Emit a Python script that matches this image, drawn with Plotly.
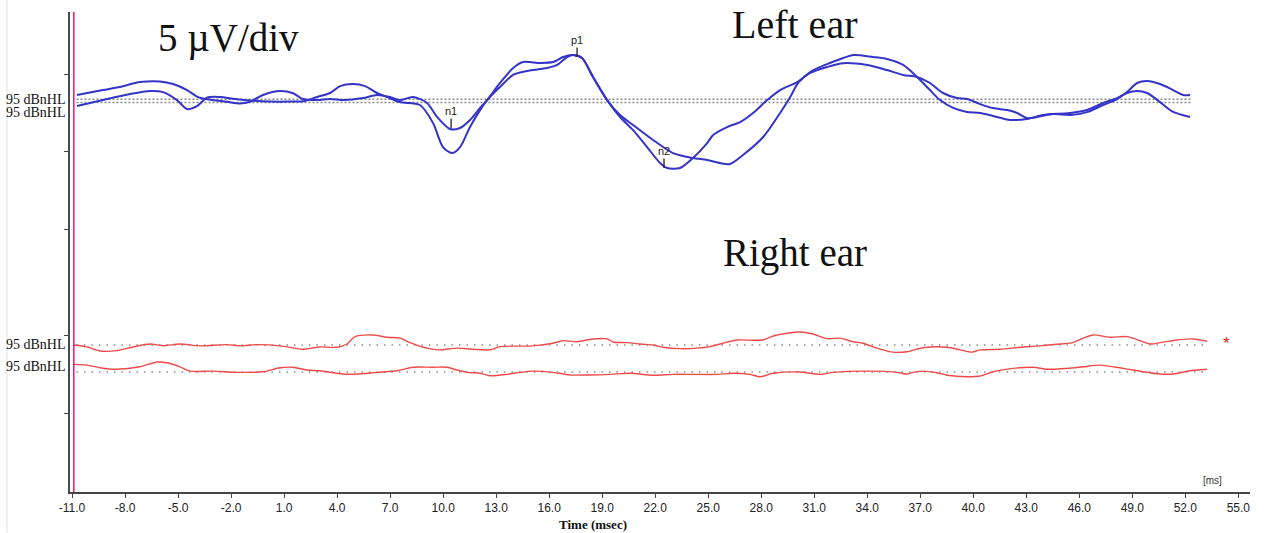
import plotly.graph_objects as go

# ---------------- data (time in ms, amplitude in µV relative to each baseline) ----------------
left_a_t = [-10.72, -9.25, -8.29, -7.15, -6.02, -5.28, -4.49, -3.93, -3.36, -2.23, -1.49, -0.93, -0.19, 0.77,
            1.51, 2.07, 2.86, 3.60, 4.44, 5.46, 6.26, 6.99, 7.56, 8.30, 9.09, 9.66, 10.39, 10.96, 11.52, 12.09,
            12.49, 13.22, 13.96, 14.52, 15.48, 16.22, 16.79, 17.35, 17.86, 18.48, 19.28, 20.01, 20.75, 21.88,
            23.01, 24.14, 24.94, 25.67, 26.24, 26.97, 28.11, 29.07, 29.64, 30.09, 30.77, 31.73, 32.64, 33.20,
            34.33, 35.12, 36.03, 36.82, 37.55, 38.12, 38.86, 39.65, 40.39, 41.12, 42.09, 43.04, 43.95, 45.47,
            46.44, 47.35, 48.14, 48.70, 49.27, 49.84, 50.57, 51.31, 52.27]
left_a_uv = [0.28, 0.60, 0.80, 1.12, 1.16, 0.99, 0.60, 0.18, 0.00, -0.16, -0.27, -0.16, 0.28, 0.54,
             0.39, 0.02, -0.05, 0.02, -0.05, 0.08, 0.28, 0.15, -0.05, 0.15, -0.24, -1.15, -1.93, -1.86, -1.34, -0.56,
             -0.05, 1.06, 2.03, 2.42, 2.36, 2.42, 2.75, 2.88, 2.68, 1.45, -0.05, -1.02, -1.67, -2.64,
             -3.49, -3.81, -3.94, -4.14, -4.20, -3.62, -2.45, -0.89, 0.15, 1.06, 1.77, 2.29, 2.68, 2.88,
             2.75, 2.62, 2.23, 1.45, 0.60, -0.05, -0.56, -0.82, -0.89, -1.08, -1.34, -1.28, -1.02, -0.89,
             -0.69, -0.24, 0.08, 0.41, 0.54, 0.41, -0.18, -0.82, -1.15]

left_b_t = [-10.72, -9.25, -7.72, -6.59, -5.85, -5.06, -4.49, -3.93, -3.36, -2.63, -1.78, -0.93, 0.21, 1.34,
            2.18, 2.86, 3.60, 4.17, 4.90, 5.58, 6.26, 6.83, 7.56, 8.69, 9.43, 9.99, 10.50, 10.96, 11.52, 12.09,
            12.49, 13.22, 13.96, 14.75, 15.88, 16.45, 17.01, 17.35, 17.86, 18.48, 19.28, 20.01, 20.75, 21.54,
            22.28, 22.67, 23.41, 24.14, 24.94, 25.28, 26.07, 26.81, 27.54, 28.34, 29.07, 30.04, 30.77, 31.73,
            32.64, 33.99, 35.12, 36.03, 36.82, 37.55, 38.29, 39.08, 39.65, 40.39, 41.12, 41.92, 42.48, 43.04,
            43.61, 44.52, 45.47, 46.44, 47.35, 48.14, 48.70, 49.27, 49.84, 50.57, 51.31, 51.87, 52.27]
left_b_uv = [-0.23, 0.16, 0.55, 0.75, 0.68, 0.16, -0.42, -0.23, 0.32, 0.36, 0.23, 0.13, 0.06, 0.06,
             0.10, 0.36, 0.62, 1.07, 1.20, 1.07, 0.62, 0.36, 0.03, -0.16, -1.33, -2.89, -3.28, -2.89, -1.59, -0.49,
             0.16, 1.01, 1.79, 2.05, 2.24, 2.44, 2.95, 3.08, 2.89, 1.66, 0.16, -0.94, -1.79, -2.89,
             -3.93, -4.25, -4.25, -3.60, -2.63, -2.11, -1.59, -1.27, -0.68, 0.16, 0.81, 1.33, 1.92, 2.31,
             2.56, 2.44, 2.11, 1.79, 1.66, 1.27, 0.62, 0.29, 0.23, -0.10, -0.36, -0.49, -0.68, -1.01,
             -0.94, -0.75, -0.81, -0.62, -0.16, 0.23, 0.68, 1.27, 1.40, 1.20, 0.81, 0.49, 0.49]

right_a_t = [-10.89, -10.15, -9.42, -8.46, -7.55, -6.59, -5.85, -4.89, -3.76, -2.23, -1.49, -0.53, 0.77, 1.51,
             2.09, 3.03, 4.00, 4.56, 5.01, 6.03, 6.82, 7.56, 8.12, 9.09, 9.82, 10.78, 11.69, 12.65, 13.22, 15.09,
             16.22, 16.79, 17.58, 18.48, 19.28, 19.62, 20.41, 21.15, 21.88, 22.45, 23.41, 24.37, 25.10, 25.84,
             26.63, 28.11, 28.68, 29.47, 30.20, 30.93, 31.73, 32.46, 33.20, 33.76, 34.56, 35.46, 36.25, 37.16,
             38.52, 39.25, 39.93, 40.39, 41.52, 42.65, 43.78, 44.91, 45.64, 46.22, 46.78, 47.74, 48.70, 49.44,
             50.00, 50.74, 51.53, 52.44, 53.23]
right_a_uv = [0.00, -0.13, -0.39, -0.37, -0.13, 0.06, -0.05, 0.06, -0.06, 0.02, -0.06, 0.02, -0.06, -0.19,
              -0.28, -0.13, -0.15, 0.06, 0.54, 0.65, 0.50, 0.44, 0.15, -0.21, -0.32, -0.21, -0.28, -0.32, -0.11, -0.06,
              0.11, 0.28, 0.21, 0.39, 0.39, 0.19, 0.15, 0.06, 0.00, -0.15, -0.24, -0.21, -0.11, 0.11,
              0.32, 0.32, 0.58, 0.76, 0.84, 0.71, 0.41, 0.44, 0.21, 0.11, -0.21, -0.47, -0.44, -0.18,
              -0.15, -0.32, -0.47, -0.32, -0.28, -0.15, -0.06, 0.06, 0.15, 0.44, 0.65, 0.50, 0.54, 0.28,
              0.06, 0.18, 0.32, 0.39, 0.24]

right_b_t = [-10.89, -10.15, -9.42, -8.46, -7.15, -6.19, -5.63, -4.89, -4.32, -3.02, -1.66, -0.19, 0.77, 1.51,
             2.29, 3.03, 4.33, 5.12, 6.26, 7.39, 8.29, 9.43, 10.22, 10.78, 11.35, 12.09, 12.65, 13.62, 14.35, 15.09,
             16.22, 17.18, 18.31, 19.45, 20.58, 21.88, 23.01, 24.14, 25.50, 26.41, 27.37, 27.94, 28.68, 30.20,
             31.34, 32.07, 34.16, 35.69, 36.25, 36.59, 37.16, 37.95, 38.52, 39.65, 40.39, 41.12, 42.26, 43.39,
             44.18, 45.31, 46.22, 47.18, 48.48, 49.61, 50.57, 51.31, 52.27, 53.23]
right_b_uv = [0.50, 0.45, 0.28, 0.18, 0.34, 0.65, 0.60, 0.34, 0.06, 0.06, -0.02, 0.02, 0.28, 0.31,
              0.13, 0.08, -0.13, -0.13, -0.02, 0.08, 0.31, 0.31, 0.31, 0.13, -0.02, -0.08, -0.24, -0.15, -0.02, 0.06,
              -0.02, -0.19, -0.19, -0.15, -0.08, -0.21, -0.15, -0.15, -0.15, -0.08, -0.15, -0.31, -0.08, 0.00,
              -0.15, -0.02, 0.06, -0.02, -0.13, -0.02, 0.06, -0.05, -0.21, -0.31, -0.26, 0.02, 0.24, 0.31,
              0.18, 0.24, 0.34, 0.45, 0.24, 0.02, -0.13, -0.13, 0.08, 0.18]

# baseline (trace origin) levels on the vertical scale, in µV units
left_a_base = 25.50
left_b_base = 25.29
right_a_base = 9.55
right_b_base = 7.79
left_base_end = 52.3
right_base_end = 53.23
base_start = -10.75

# waveform peak markers: name, time (ms), amplitude, trace baseline
peak_names = ["n1", "p1", "n2"]
peak_times = [10.45, 17.58, 22.5]
peak_uv = [-1.86, 2.95, -4.25]
peak_base = [left_a_base, left_b_base, left_b_base]

stim_marker_ms = -10.9
x_ticks = [-11 + 3 * i for i in range(23)]
x_tick_text = ["%.1f" % v for v in x_ticks]
y_ticks = [5.13, 10.19, 17.03, 22.08, 27.08]
level_labels = ["95 dBnHL", "95 dBnHL", "95 dBnHL", "95 dBnHL"]
level_label_y = [25.52, 24.63, 9.55, 8.18]

BLUE = "#3434c8"
RED = "#ef4a4a"

fig = go.Figure()

# baselines (dotted)
for base, end, dash, w in [(left_a_base, left_base_end, "2px,2px", 1.6), (left_b_base, left_base_end, "2px,2px", 1.6),
                           (right_a_base, right_base_end, "1.5px,6px", 1.5), (right_b_base, right_base_end, "1.5px,6px", 1.5)]:
    fig.add_trace(go.Scatter(x=[base_start, end], y=[base, base], mode="lines",
                             line=dict(color="#8a8a8a", width=w, dash=dash), hoverinfo="skip"))

for t, uv, base, color, w in [(left_a_t, left_a_uv, left_a_base, BLUE, 2.0),
                              (left_b_t, left_b_uv, left_b_base, BLUE, 2.0),
                              (right_a_t, right_a_uv, right_a_base, RED, 1.4),
                              (right_b_t, right_b_uv, right_b_base, RED, 1.4)]:
    fig.add_trace(go.Scatter(x=t, y=[base + v for v in uv], mode="lines",
                             line=dict(color=color, width=w, shape="spline", smoothing=0.8)))

annotations = []
for name, pt, pv, pb in zip(peak_names, peak_times, peak_uv, peak_base):
    annotations.append(dict(x=pt, y=pb + pv, xref="x", yref="y", text=name, showarrow=True,
                            arrowhead=0, arrowwidth=1.3, arrowcolor="#222", ax=0, ay=-17, standoff=0,
                            font=dict(family="Liberation Sans", size=11, color="#222")))

for lab, ly in zip(level_labels, level_label_y):
    annotations.append(dict(x=-0.0015, y=ly, xref="paper", yref="y", text=lab, showarrow=False,
                            xanchor="right", yanchor="middle",
                            font=dict(family="Liberation Serif", size=14, color="#111")))


def note(x, y, text, size, family="Liberation Serif", color="#111"):
    return dict(x=x, y=y, xref="paper", yref="paper", text=text, showarrow=False,
                xanchor="center", yanchor="middle", font=dict(family=family, size=size, color=color))


annotations += [
    note(0.134, 0.946, "5 µV/div", 39),
    note(0.614, 0.973, "Left ear", 40),
    note(0.614, 0.498, "Right ear", 39),
    note(0.443, -0.067, "<b>Time (msec)</b>", 13),
    note(0.9686, 0.025, "[ms]", 10, "Liberation Sans", "#333"),
    note(0.98, 0.310, "*", 17, "Liberation Sans", "#e82020"),
]

shapes = [
    dict(type="line", xref="x", yref="paper", x0=stim_marker_ms, x1=stim_marker_ms, y0=0, y1=1,
         line=dict(color="#f0207a", width=1.6)),
    dict(type="line", xref="paper", yref="paper", x0=-0.0534, x1=-0.0534, y0=-0.085, y1=1.025,
         line=dict(color="#e4e1d6", width=1)),
]

fig.update_layout(
    width=1264, height=533,
    margin=dict(l=70, r=14, t=12, b=41),
    plot_bgcolor="white", paper_bgcolor="white",
    showlegend=False,
    annotations=annotations, shapes=shapes,
    xaxis=dict(range=[-11.115, 55.66], tickvals=x_ticks, ticktext=x_tick_text, showgrid=False, zeroline=False,
               showline=True, linecolor="#444", linewidth=1.5, ticks="outside", ticklen=4, tickcolor="#444",
               tickfont=dict(family="Liberation Sans", size=12, color="#222")),
    yaxis=dict(range=[0, 31.17], tickvals=y_ticks, showticklabels=False, showgrid=False, zeroline=False,
               showline=True, linecolor="#4a4a4a", linewidth=2.2, ticks="outside", ticklen=4, tickcolor="#444"),
)

fig.write_html("out.html", config={"displayModeBar": False},
               post_script="document.body.style.margin='0';document.body.style.overflow='hidden';")
